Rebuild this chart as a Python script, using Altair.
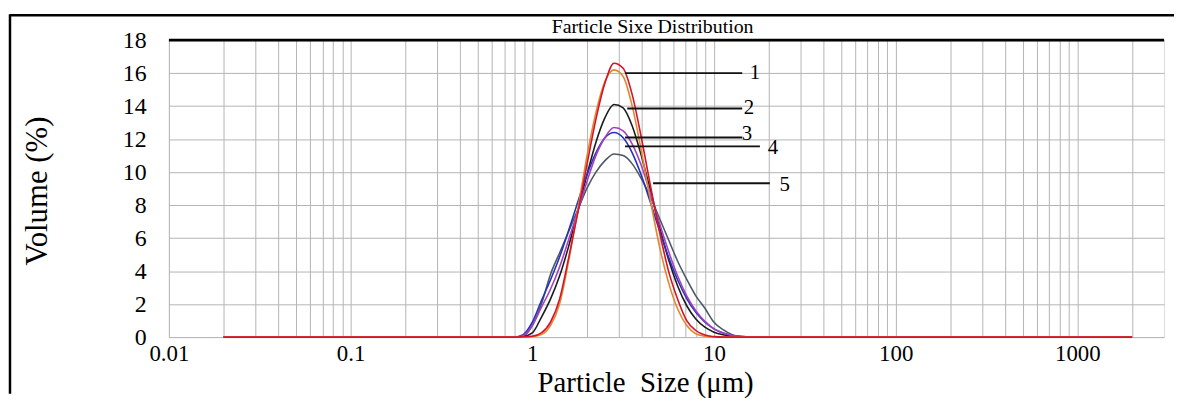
import altair as alt
import pandas as pd

# ---------------- data ----------------
sizes = [0.02, 0.7,
         0.794, 0.891, 1.0, 1.122, 1.259, 1.413, 1.585, 1.778, 1.995, 2.239, 2.512, 2.818, 3.162,
         3.548, 3.981, 4.467, 5.012, 5.623, 6.310, 7.079, 7.943, 8.913, 10.0, 11.22, 12.59, 14.13,
         16.0, 2000]

curve1 = [0, 0, 0, 0.02, 0.05, 0.25, 0.9, 2.3, 4.8, 7.5, 10.4, 13.2, 15.4, 16.6, 16.3,
          14.7, 12.1, 9.2, 6.4, 4.0, 2.3, 1.0, 0.4, 0.12, 0.03, 0, 0, 0, 0, 0]
curve1b = [0, 0, 0, 0, 0.03, 0.15, 0.7, 2.0, 4.6, 7.7, 10.9, 13.6, 15.5, 16.2, 15.8,
           14.0, 11.3, 8.3, 5.5, 3.3, 1.7, 0.7, 0.2, 0.05, 0, 0, 0, 0, 0, 0]
curve2 = [0, 0, 0, 0.03, 0.25, 1.2, 2.3, 3.7, 5.5, 7.6, 9.8, 11.8, 13.3, 14.1, 13.9,
          12.8, 11.0, 8.9, 6.7, 4.7, 3.1, 1.9, 1.1, 0.6, 0.3, 0.14, 0.05, 0, 0, 0]
curve3 = [0, 0, 0, 0.1, 0.7, 1.8, 2.9, 4.25, 5.9, 7.6, 9.4, 11.0, 12.1, 12.7, 12.5,
          11.7, 10.4, 8.7, 6.9, 5.2, 3.7, 2.5, 1.6, 0.95, 0.5, 0.25, 0.1, 0.03, 0, 0]
curve4 = [0, 0, 0, 0.15, 0.9, 2.2, 3.46, 4.85, 6.46, 8.17, 9.81, 11.17, 12.08, 12.4, 12.08,
          11.17, 9.81, 8.17, 6.46, 4.85, 3.46, 2.34, 1.5, 0.91, 0.5, 0.25, 0.1, 0.03, 0, 0]
curve5 = [0, 0, 0, 0.05, 0.7, 2.0, 3.8, 5.1, 6.4, 7.7, 9.0, 10.0, 10.7, 11.1, 11.0,
          10.5, 9.6, 8.5, 7.2, 5.9, 4.6, 3.5, 2.5, 1.75, 0.9, 0.45, 0.15, 0.03, 0, 0]

# drawing order (first = bottom)
series_names = ["5", "2", "4", "3", "1b", "1"]
series_values = [curve5, curve2, curve4, curve3, curve1b, curve1]
series_colors = ["#4d5866", "#1c1c1c", "#2433b8", "#a43fc4", "#e4872c", "#d2142c"]

y_ticks = [0, 2, 4, 6, 8, 10, 12, 14, 16, 18]
x_grid = [m * d for d in [0.01, 0.1, 1, 10, 100] for m in range(1, 10)] + [1000, 2000]
x_label_text = ["0.01", "0.1", "1", "10", "100", "1000"]

# leader lines and their numbers
lead_label = ["1", "2", "3", "4", "5"]
lead_x1 = [3.24, 3.33, 3.24, 3.24, 4.62]
lead_x2 = [14.3, 14.3, 14.3, 17.9, 20.3]
lead_y = [16.0, 13.85, 12.1, 11.56, 9.33]
label_x = [16.8, 15.6, 15.2, 21.1, 24.5]
label_y = [16.0, 13.9, 12.3, 11.45, 9.2]

title_text = "Farticle Sixe Distribution"
x_title = "Particle\u00a0 Size (\u03bcm)"
y_title = "Volume (%)"

# ---------------- chart ----------------
FONT = "Liberation Serif"
W, H = 1002, 299

x_axis = alt.Axis(values=x_grid, format="~g",
                  labelExpr="indexof(" + str(x_label_text) + ", datum.label) >= 0 ? datum.label : ''",
                  grid=True, gridColor="#b4b4b4", gridWidth=1, ticks=False, domain=False,
                  labelFont=FONT, labelFontSize=23, labelColor="black", labelPadding=6,
                  labelFlush=False, labelOverlap=False, title=None)
y_axis = alt.Axis(values=y_ticks, grid=True, gridColor="#b4b4b4", gridWidth=1, ticks=False,
                  domain=False, labelFont=FONT, labelFontSize=24, labelColor="black",
                  labelPadding=23, title=None)
x_scale = alt.Scale(type="log", domain=[0.01, 3000], nice=False)
y_scale = alt.Scale(domain=[0, 18], nice=False)

layers = []
for name, vals, col in zip(series_names, series_values, series_colors):
    df = pd.DataFrame({"size": sizes, "vol": vals})
    layers.append(
        alt.Chart(df).mark_line(color=col, strokeWidth=1.6, interpolate="monotone").encode(
            x=alt.X("size:Q", scale=x_scale, axis=x_axis),
            y=alt.Y("vol:Q", scale=y_scale, axis=y_axis),
        )
    )

one = pd.DataFrame({"a": [0]})

top_line = alt.Chart(one).mark_rule(color="black", strokeWidth=3).encode(
    x=alt.value(0), x2=alt.value(W), y=alt.value(0))

frame_top = alt.Chart(one).mark_rule(color="black", strokeWidth=2.5).encode(
    x=alt.value(-160), x2=alt.value(1012), y=alt.value(-25))
frame_left = alt.Chart(one).mark_rule(color="black", strokeWidth=2.5).encode(
    x=alt.value(-160), y=alt.value(-26), y2=alt.value(356))

lead_df = pd.DataFrame({"x1": lead_x1, "x2": lead_x2, "y": lead_y,
                        "lab": lead_label, "tx": label_x, "ty": label_y})
leaders = alt.Chart(lead_df).mark_rule(color="#111111", strokeWidth=2).encode(
    x=alt.X("x1:Q", scale=x_scale, axis=x_axis), x2="x2:Q",
    y=alt.Y("y:Q", scale=y_scale, axis=y_axis))
lead_text = alt.Chart(lead_df).mark_text(font=FONT, fontSize=21, color="black",
                                         align="center", baseline="middle").encode(
    x=alt.X("tx:Q", scale=x_scale, axis=x_axis),
    y=alt.Y("ty:Q", scale=y_scale, axis=y_axis), text="lab:N")

title_mark = alt.Chart(one).mark_text(text=title_text, font=FONT, fontSize=20, color="black",
                                      align="center", baseline="middle").encode(
    x=alt.value(487), y=alt.value(-13))
xt_mark = alt.Chart(one).mark_text(text=x_title, font=FONT, fontSize=29, color="black",
                                   align="center", baseline="middle").encode(
    x=alt.value(480), y=alt.value(345))
yt_mark = alt.Chart(one).mark_text(text=y_title, font=FONT, fontSize=31, color="black",
                                   align="center", baseline="middle", angle=270).encode(
    x=alt.value(-132), y=alt.value(152))

chart = alt.layer(*layers, top_line, leaders, lead_text, title_mark, xt_mark, yt_mark,
                  frame_top, frame_left).properties(
    width=W, height=H,
    autosize=alt.AutoSizeParams(type="none"),
    padding={"left": 162, "top": 31, "right": 10, "bottom": 65},
).configure_view(stroke="#a8a8a8", strokeWidth=1).configure(background="white")

chart.save("out.html", embed_options={"renderer": "svg", "actions": False})
